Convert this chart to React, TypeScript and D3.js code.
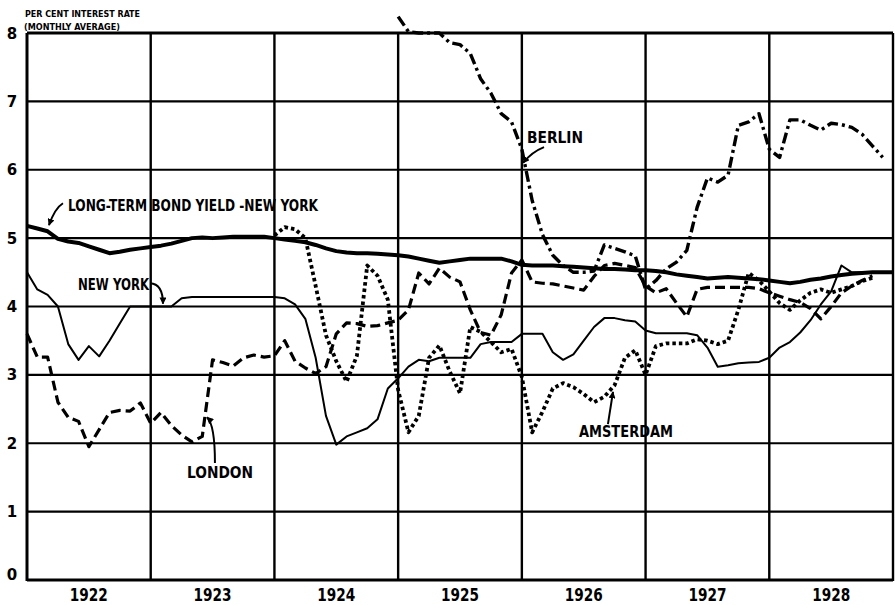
import React from 'react';
import * as d3 from 'd3';

const W = 895;
const H = 605;

const years = ['1922', '1923', '1924', '1925', '1926', '1927', '1928'];
const yTicks = [0, 1, 2, 3, 4, 5, 6, 7, 8];

// monthly averages, index 0 = Jan 1922
const bondYield = [
  5.18, 5.14, 5.1, 4.99, 4.95, 4.93, 4.88, 4.83, 4.78, 4.8, 4.83, 4.85,
  4.87, 4.89, 4.92, 4.96, 5.0, 5.01, 5.0, 5.01, 5.02, 5.02, 5.02, 5.02,
  5.0, 4.98, 4.96, 4.94, 4.9, 4.85, 4.81, 4.79, 4.78, 4.78, 4.77, 4.76,
  4.75, 4.73, 4.7, 4.67, 4.64, 4.66, 4.68, 4.7, 4.7, 4.7, 4.7, 4.66,
  4.61, 4.6, 4.6, 4.6, 4.59, 4.58, 4.57, 4.56, 4.55, 4.55, 4.54, 4.53,
  4.53, 4.52, 4.5, 4.47, 4.45, 4.43, 4.41, 4.42, 4.43, 4.42, 4.41, 4.4,
  4.38, 4.36, 4.34, 4.36, 4.39, 4.41, 4.44, 4.46, 4.48, 4.49, 4.5, 4.5, 4.5,
];

const newYork = [
  4.5, 4.25, 4.17, 4.0, 3.45, 3.22, 3.42, 3.27, 3.5, 3.75, 4.0, 4.0,
  4.0, 4.0, 4.0, 4.12, 4.14, 4.14, 4.14, 4.14, 4.14, 4.14, 4.14, 4.14,
  4.14, 4.12, 4.03, 3.82, 3.25, 2.4, 1.98, 2.1, 2.16, 2.22, 2.35, 2.8,
  2.95, 3.12, 3.22, 3.2, 3.25, 3.25, 3.25, 3.25, 3.45, 3.48, 3.48, 3.48,
  3.6, 3.6, 3.6, 3.33, 3.22, 3.3, 3.5, 3.7, 3.83, 3.83, 3.8, 3.78,
  3.65, 3.61, 3.61, 3.61, 3.61, 3.58, 3.4, 3.12, 3.14, 3.17, 3.18, 3.19,
  3.25, 3.4, 3.48, 3.62, 3.8, 4.03, 4.22, 4.6, 4.5, 4.5, 4.5, 4.5,
];

const london = [
  3.6, 3.26, 3.26, 2.6, 2.38, 2.32, 1.95, 2.2, 2.45, 2.48, 2.47, 2.59,
  2.29, 2.45, 2.26, 2.12, 2.02, 2.1, 3.22, 3.18, 3.13, 3.25, 3.29, 3.26,
  3.28, 3.5, 3.2, 3.1, 3.02, 3.12, 3.6, 3.76, 3.75, 3.71, 3.72, 3.76,
  3.8, 3.95, 4.49, 4.33, 4.56, 4.43, 4.36, 3.95, 3.62, 3.58, 3.88, 4.49,
  4.68, 4.36, 4.34, 4.33, 4.3, 4.27, 4.24, 4.44, 4.6, 4.63, 4.6, 4.57,
  4.3, 4.2, 4.26, 4.05, 3.85, 4.25, 4.28, 4.28, 4.28, 4.28, 4.28, 4.26,
  4.2, 4.15, 4.1, 4.06, 3.97, 3.82, 4.0, 4.2, 4.3, 4.38, 4.45,
];

const amsterdamStart = 24; // Jan 1924
const amsterdam = [
  5.04, 5.16, 5.13, 5.0, 4.3, 3.58, 3.2, 2.9, 3.28, 4.6, 4.45, 4.1,
  2.78, 2.16, 2.4, 3.25, 3.43, 3.05, 2.73, 3.7, 3.63, 3.48, 3.33, 3.38,
  2.97, 2.16, 2.46, 2.8, 2.88, 2.82, 2.72, 2.6, 2.68, 2.85, 3.25, 3.36,
  3.0, 3.42, 3.46, 3.46, 3.46, 3.52, 3.5, 3.45, 3.5, 3.95, 4.49, 4.38,
  4.22, 4.05, 3.95, 4.09, 4.2, 4.25, 4.2, 4.25, 4.3, 4.37, 4.42,
];

const berlinStart = 36; // Jan 1925
const berlin = [
  8.24, 8.02, 8.0, 8.0, 8.0, 7.86, 7.83, 7.7, 7.33, 7.12, 6.82, 6.7,
  6.3, 5.55, 5.05, 4.75, 4.6, 4.5, 4.5, 4.52, 4.9, 4.85, 4.8, 4.74,
  4.25, 4.38, 4.55, 4.65, 4.82, 5.45, 5.88, 5.82, 5.92, 6.65, 6.7, 6.82,
  6.3, 6.18, 6.73, 6.73, 6.65, 6.58, 6.68, 6.66, 6.62, 6.52, 6.35, 6.18,
];

// label anchors in data units: [month, value]
const labelTexts = ['LONG-TERM BOND YIELD -NEW YORK', 'NEW YORK', 'LONDON', 'BERLIN', 'AMSTERDAM'];
const labelAnchors = [[3.98, 5.39], [4.95, 4.24], [15.52, 1.49], [48.5, 6.39], [53.54, 2.09]];
const arrowFrom = [[3.49, 5.51], [11.93, 4.34], [18.23, 1.71], [50.15, 6.33], [56.35, 2.28]];
const arrowCtrl = [[2.72, 5.44], [13.19, 4.33], [18.23, 2.27], [48.98, 6.26], [56.64, 2.56]];
const arrowTo = [[2.13, 5.19], [13.19, 4.04], [17.46, 2.38], [48.11, 6.1], [56.84, 2.75]];
const labelLens = [250, 71, 66, 56, 94];

export default function App() {
  const x = d3.scaleLinear().domain([0, 84]).range([27, 893]);
  const y = d3.scaleLinear().domain([0, 8]).range([580, 33]);
  const line = d3
    .line<number>()
    .x((_, i) => x(i))
    .y((d) => y(d));
  const lineFrom = (start: number) =>
    d3
      .line<number>()
      .x((_, i) => x(i + start))
      .y((d) => y(d));

  const font = "'Liberation Sans Narrow', 'DejaVu Sans Condensed', 'Arial Narrow', sans-serif";

  return (
    <svg
      width={W}
      height={H}
      viewBox={`0 0 ${W} ${H}`}
      style={{ position: 'absolute', left: 0, top: 0, background: '#fff' }}
    >
      <defs>
        <marker
          id="ah"
          viewBox="0 0 10 10"
          refX="9"
          refY="5"
          markerWidth="7"
          markerHeight="7"
          markerUnits="userSpaceOnUse"
          orient="auto"
        >
          <path d="M0,0 L10,5 L0,10 z" fill="#000" />
        </marker>
      </defs>
      <rect x={0} y={0} width={W} height={H} fill="#fff" />

      {/* horizontal grid */}
      {yTicks.map((t) => (
        <line key={'h' + t} x1={x(0)} x2={x(84)} y1={y(t)} y2={y(t)} stroke="#000"
          strokeWidth={t === 0 || t === 8 ? 2.8 : 2.2} />
      ))}
      {/* vertical grid (year boundaries) */}
      {d3.range(0, 85, 12).map((m) => (
        <line key={'v' + m} x1={x(m)} x2={x(m)} y1={y(8)} y2={y(0) + 1} stroke="#000"
          strokeWidth={m === 0 ? 3 : 2.4} />
      ))}

      {/* y labels */}
      {yTicks.map((t) => (
        <text key={'yl' + t} x={12} y={Math.min(y(t) + 5.5, 580)} textAnchor="middle"
          fontFamily="'DejaVu Sans', sans-serif" fontWeight="bold" fontSize={15} fill="#000">
          {t}
        </text>
      ))}
      {/* x labels */}
      {years.map((yr, k) => (
        <text key={yr} x={x(k * 12 + 6)} y={601} textAnchor="middle" fontFamily={font}
          fontWeight="bold" fontSize={17} fill="#000" textLength={38} lengthAdjust="spacingAndGlyphs">
          {yr}
        </text>
      ))}

      {/* axis title */}
      <text x={25} y={17} fontFamily={font} fontWeight="bold" fontSize={8} fill="#000"
        textLength={115} lengthAdjust="spacingAndGlyphs">PER CENT INTEREST RATE</text>
      <text x={24} y={30} fontFamily={font} fontWeight="bold" fontSize={8.5} fill="#000"
        textLength={96} lengthAdjust="spacingAndGlyphs">(MONTHLY AVERAGE)</text>

      {/* series */}
      <path d={line(bondYield) || ''} fill="none" stroke="#000" strokeWidth={4} strokeLinejoin="round" />
      <path d={line(newYork) || ''} fill="none" stroke="#000" strokeWidth={2} strokeLinejoin="round" />
      <path d={line(london) || ''} fill="none" stroke="#000" strokeWidth={3.2} strokeDasharray="10,5"
        strokeLinejoin="round" />
      <path d={lineFrom(amsterdamStart)(amsterdam) || ''} fill="none" stroke="#000" strokeWidth={3.8}
        strokeDasharray="3.5,3" strokeLinejoin="round" />
      <path d={lineFrom(berlinStart)(berlin) || ''} fill="none" stroke="#000" strokeWidth={3.4}
        strokeDasharray="11,4,3,4" strokeLinejoin="round" />

      {/* labels and arrows */}
      {labelTexts.map((t, k) => (
        <g key={t}>
          <path
            d={`M${x(arrowFrom[k][0])},${y(arrowFrom[k][1])} Q${x(arrowCtrl[k][0])},${y(arrowCtrl[k][1])} ${x(arrowTo[k][0])},${y(arrowTo[k][1])}`}
            fill="none" stroke="#000" strokeWidth={2} markerEnd="url(#ah)" />
          <text x={x(labelAnchors[k][0])} y={y(labelAnchors[k][1])} fontFamily={font} fontWeight="bold"
            fontSize={15} fill="#000" textLength={labelLens[k]} lengthAdjust="spacingAndGlyphs">
            {t}
          </text>
        </g>
      ))}
    </svg>
  );
}
